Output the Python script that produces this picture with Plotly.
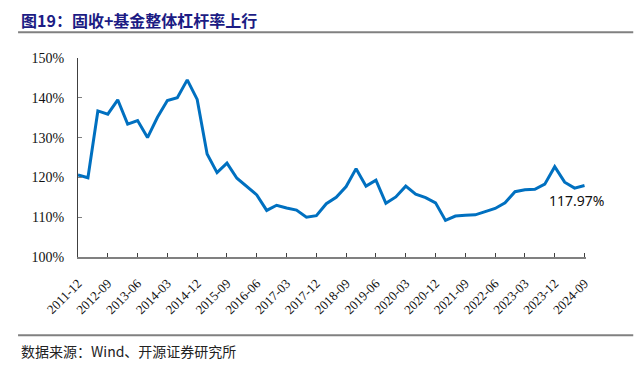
import plotly.graph_objects as go

quarters = [
    "2011-12", "2012-03", "2012-06", "2012-09", "2012-12", "2013-03", "2013-06", "2013-09",
    "2013-12", "2014-03", "2014-06", "2014-09", "2014-12", "2015-03", "2015-06", "2015-09",
    "2015-12", "2016-03", "2016-06", "2016-09", "2016-12", "2017-03", "2017-06", "2017-09",
    "2017-12", "2018-03", "2018-06", "2018-09", "2018-12", "2019-03", "2019-06", "2019-09",
    "2019-12", "2020-03", "2020-06", "2020-09", "2020-12", "2021-03", "2021-06", "2021-09",
    "2021-12", "2022-03", "2022-06", "2022-09", "2022-12", "2023-03", "2023-06", "2023-09",
    "2023-12", "2024-03", "2024-06", "2024-09",
]
leverage = [
    120.6, 119.9, 136.7, 135.9, 139.5, 133.4, 134.3, 130.0,
    135.1, 139.3, 140.0, 144.5, 139.6, 125.9, 121.2, 123.6,
    119.8, 117.7, 115.6, 111.7, 113.0, 112.3, 111.8, 110.0,
    110.4, 113.4, 115.0, 117.7, 122.2, 117.8, 119.3, 113.5,
    115.1, 117.8, 115.8, 114.9, 113.6, 109.2, 110.3, 110.5,
    110.6, 111.4, 112.2, 113.6, 116.4, 116.9, 117.0, 118.3,
    122.7, 118.8, 117.3, 117.97,
]
tick_labels = [
    "2011-12", "2012-09", "2013-06", "2014-03", "2014-12", "2015-09", "2016-06", "2017-03",
    "2017-12", "2018-09", "2019-06", "2020-03", "2020-12", "2021-09", "2022-06", "2023-03",
    "2023-12", "2024-09",
]
title_text = "图19：固收+基金整体杠杆率上行"
source_text = "数据来源：Wind、开源证券研究所"
last_label = "117.97%"

xs = list(range(len(quarters)))
tick_pos = [quarters.index(t) for t in tick_labels]

fig = go.Figure()
fig.add_trace(go.Scatter(
    x=xs, y=leverage, mode="lines",
    line=dict(color="#0070C0", width=3),
    hoverinfo="skip", showlegend=False,
))

fig.add_annotation(
    x=xs[-1], y=leverage[-1], text=last_label, showarrow=False,
    xanchor="center", yanchor="middle", xshift=-8, yshift=-15,
    font=dict(family="Noto Sans", size=14, color="#111111"),
)

# Title and source
fig.add_annotation(
    xref="paper", yref="paper", x=-0.114, y=1.193, text=title_text, showarrow=False,
    xanchor="left", yanchor="middle", borderpad=0,
    font=dict(family="Noto Sans CJK SC", size=16, color="#1C1C84", weight="bold"),
)
fig.add_annotation(
    xref="paper", yref="paper", x=-0.116, y=-0.470, text=source_text, showarrow=False,
    xanchor="left", yanchor="middle",
    font=dict(family="Noto Sans CJK SC", size=14, color="#222222"),
)
fig.add_shape(type="line", xref="paper", yref="paper", x0=-0.118, x1=1.093, y0=1.130, y1=1.130,
              line=dict(color="#808080", width=2))
fig.add_shape(type="line", xref="paper", yref="paper", x0=-0.118, x1=1.093, y0=-0.393, y1=-0.393,
              line=dict(color="#808080", width=2))

fig.update_layout(
    width=634, height=359,
    margin=dict(l=70, r=56, t=50, b=110),
    plot_bgcolor="white", paper_bgcolor="white",
    xaxis=dict(
        range=[0, len(quarters) - 1 + 0.15],
        tickmode="array", tickvals=tick_pos, ticktext=tick_labels,
        tickangle=-45, ticks="inside", ticklen=4, tickcolor="#404040",
        ticklabelstandoff=12,
        showline=True, linecolor="#808080", linewidth=1.5,
        showgrid=False, zeroline=False,
        tickfont=dict(family="Liberation Serif", size=13, color="#111111"),
    ),
    yaxis=dict(
        range=[100, 150], dtick=10, ticksuffix="%",
        ticks="inside", ticklen=4, tickcolor="#808080",
        ticklabelstandoff=10,
        showline=True, linecolor="#404040", linewidth=1,
        showgrid=False, zeroline=False,
        tickfont=dict(family="Liberation Serif", size=14, color="#111111"),
    ),
)

fig.write_html("out.html")
